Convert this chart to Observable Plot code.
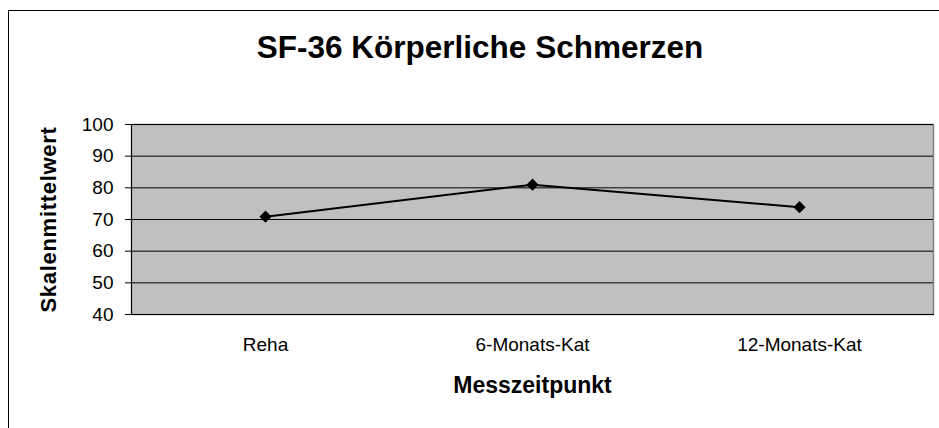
<!DOCTYPE html>
<html>
<head>
<meta charset="utf-8">
<script src="https://cdn.jsdelivr.net/npm/d3@7"></script>
<script src="https://cdn.jsdelivr.net/npm/@observablehq/plot@0.6"></script>
<style>
  html, body { margin: 0; padding: 0; background: white; overflow: hidden; }
  #wrap { position: relative; width: 939px; height: 428px; }
  #border { position: absolute; left: 8px; top: 10px; width: 950px; height: 440px;
            border: 1.5px solid black; box-sizing: border-box; pointer-events: none; }
</style>
</head>
<body>
<div id="wrap"><div id="chart"></div><div id="border"></div></div>
<script>
const title = "SF-36 Körperliche Schmerzen";
const xLabel = "Messzeitpunkt";
const yLabel = "Skalenmittelwert";
const categories = ["Reha", "6-Monats-Kat", "12-Monats-Kat"];
const values = [70.9, 81.0, 73.9];
const yTicks = [40, 50, 60, 70, 80, 90, 100];

const data = categories.map((c, i) => ({cat: c, value: values[i]}));
const font = "Arial, 'Liberation Sans', sans-serif";

const chart = Plot.plot({
  width: 939,
  height: 428,
  marginLeft: 131,
  marginRight: 6,
  marginTop: 124,
  marginBottom: 114,
  style: {fontFamily: font, background: "transparent", color: "black"},
  x: {type: "point", domain: categories, padding: 0.5, label: null},
  y: {domain: [40, 100], ticks: yTicks, label: null},
  marks: [
    Plot.frame({fill: "#c0c0c0", stroke: "#808080", strokeWidth: 1.5}),
    Plot.gridY(yTicks, {stroke: "black", strokeOpacity: 1, strokeWidth: 1}),
    Plot.frame({anchor: "left", stroke: "black", strokeWidth: 1}),
    Plot.frame({anchor: "bottom", stroke: "black", strokeWidth: 1}),
    Plot.axisY(yTicks, {tickSize: 6, tickPadding: 12, fontSize: 19, stroke: "black", fill: "black"}),
    Plot.axisX({tickSize: 0, tickPadding: 23, fontSize: 19, fill: "black"}),
    Plot.line(data, {x: "cat", y: "value", stroke: "black", strokeWidth: 2}),
    Plot.dot(data, {x: "cat", y: "value", symbol: "diamond2", r: 5.5, fill: "black", stroke: "none"}),
    Plot.text([title], {frameAnchor: "top", lineAnchor: "middle", dx: -52.5, dy: -77, fontSize: 31.5, fontWeight: "bold", fill: "black"}),
    Plot.text([xLabel], {frameAnchor: "bottom", lineAnchor: "middle", dy: 71.5, fontSize: 23, fontWeight: "bold", fill: "black"}),
    Plot.text([yLabel], {frameAnchor: "left", textAnchor: "middle", lineAnchor: "middle", dx: -83, rotate: -90, fontSize: 22, fontWeight: "bold", fill: "black"})
  ]
});
d3.select(chart).selectAll("text")
  .filter(function() { return this.textContent === yLabel; })
  .style("letter-spacing", "0.7px");
document.getElementById("chart").appendChild(chart);
</script>
</body>
</html>
